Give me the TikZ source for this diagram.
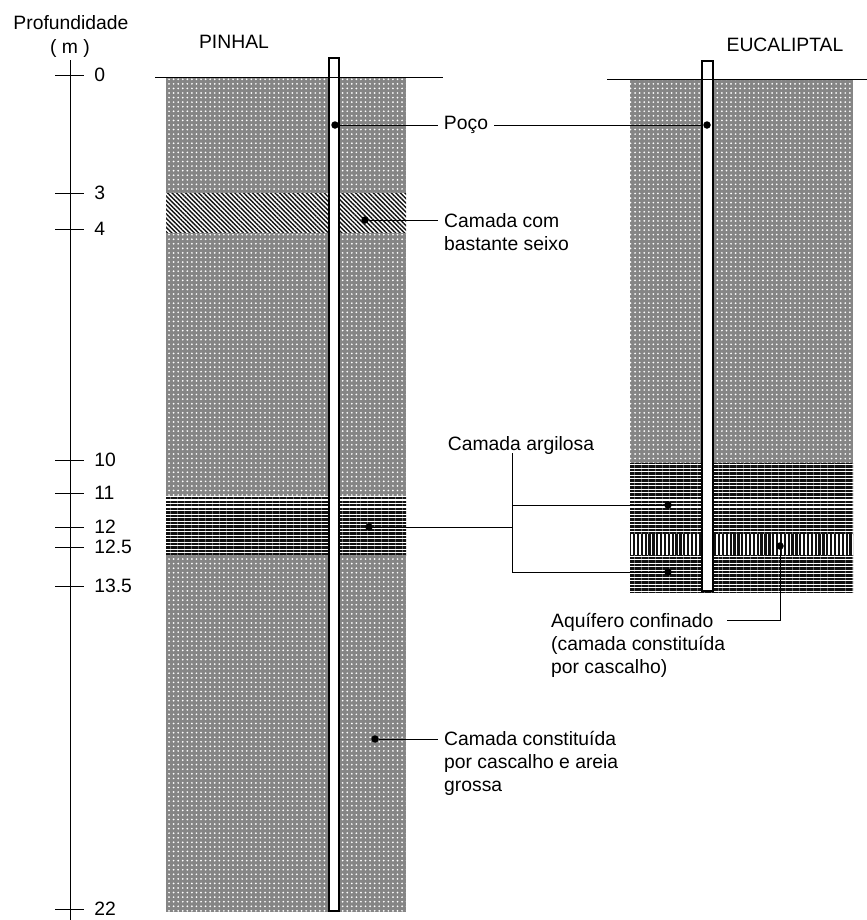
\documentclass[tikz,border=0pt]{standalone}
\usepackage{fontspec}
\setmainfont{Liberation Sans}
\usetikzlibrary{patterns,patterns.meta}
\definecolor{areia}{HTML}{858585}
\definecolor{argila}{HTML}{111111}

\tikzset{
  sand/.style={fill=areia,postaction={pattern={Dots[distance=2.6pt,radius=0.55pt]},pattern color=white}},
  gravel/.style={fill=white,postaction={pattern={Lines[angle=-45,distance=1.8pt,line width=0.8pt]},pattern color=argila}},
  clay/.style={fill=white,postaction={pattern={Lines[angle=0,distance=2pt,line width=1.4pt]},pattern color=argila}},
  aquif/.style={fill=white,postaction={pattern={Lines[angle=90,distance=2.2pt,line width=1.3pt]},pattern color=argila}},
  pipe/.style={draw,fill=white,line width=0.6pt},
  dot/.style={circle,fill=black,inner sep=0pt,minimum size=1.5mm},
  label/.style={anchor=north west,align=left,inner ysep=0pt}
}

\begin{document}
\begin{tikzpicture}[x=0.2mm,y=-0.2mm,every node/.style={font=\fontsize{11}{13}\selectfont}]
            \useasboundingbox (0,0) rectangle (867,920);

            \node (prof) at (71,23) {Profundidade};
            \node (unid) at (70,48) {( m )};
            \draw (70,60) -- (70,920);
            \foreach \d/\y [count=\i] in {0/75,3/193,4/229,10/460,11/493,12/527,12.5/547,13.5/586,22/909} {
              \draw (55,\y) -- (84,\y);
              \node[anchor=west,inner sep=0pt] (tick\i) at (94,\y) {\d};
            }

            \node (pinhal) at (234,42) {PINHAL};
            \node (euca) at (785,45) {EUCALIPTAL};

            \path[sand] (166,77) rectangle (406,193);
            \path[gravel] (166,193) rectangle (406,233);
            \path[sand] (166,233) rectangle (406,496);
            \path[clay] (166,496) rectangle (406,555);
            \path[sand] (166,555) rectangle (406,912);
            \draw[pipe] (329,58) rectangle (339,911);
            \draw (155,77) -- (443,77);

            \path[sand] (630,79) rectangle (853,463);
            \path[clay] (630,463) rectangle (853,534);
            \path[aquif] (630,534) rectangle (853,555);
            \path[clay] (630,555) rectangle (853,592);
            \draw[pipe] (702,61) rectangle (713,591);
            \draw (607,79) -- (867,79);

            \node[dot] (pocoL) at (335,125) {};
            \node[dot] (pocoR) at (707,125) {};
            \node (poco) at (466,125) {Poço};
            \draw (pocoL) -- (poco);
            \draw (poco) -- (pocoR);

            \node[dot] (seixoDot) at (365,220) {};
            \node[label] (seixo) at (438,213) {Camada com\\bastante seixo};
            \draw (seixoDot) -- (seixoDot -| seixo.west);

            \node (argilosa) at (521,445) {Camada argilosa};
            \coordinate (brTop) at (512,453);
            \node[dot] (argL) at (369,527) {};
            \node[dot] (argR1) at (668,505) {};
            \node[dot] (argR2) at (668,572) {};
            \draw (brTop) |- (argR2);
            \draw (argR1) -- (argR1 -| brTop);
            \draw (argL) -- (argL -| brTop);

            \node[dot] (aqDot) at (780,546) {};
            \node[label] (aquifero) at (545,613) {Aquífero confinado\\(camada constituída\\por cascalho)};
            \coordinate (aqEnd) at (727,620);
            \draw (aqDot) |- (aqEnd);

            \node[dot] (cascDot) at (375,739) {};
            \node[label] (cascalho) at (438,731) {Camada constituída\\por cascalho e areia\\grossa};
            \draw (cascDot) -- (cascDot -| cascalho.west);
        \end{tikzpicture}
\end{document}
